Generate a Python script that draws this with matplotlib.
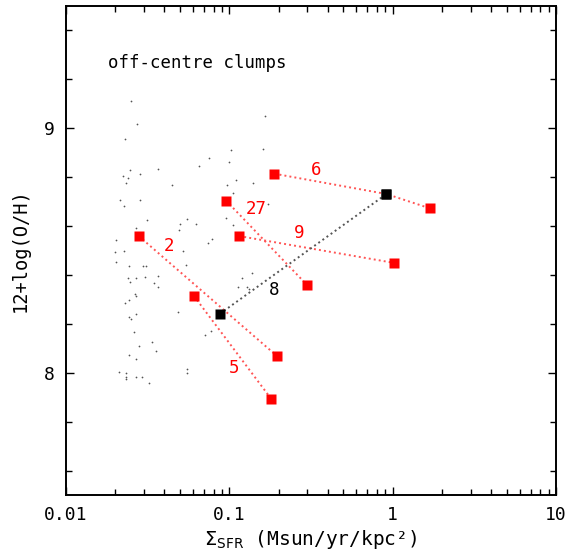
import matplotlib
matplotlib.use('Agg')
import matplotlib.pyplot as plt
from matplotlib.ticker import MultipleLocator, FixedLocator, NullFormatter

# background sample (small grey dots)
bg_sfr = [0.0251, 0.0272, 0.0229, 0.1648, 0.1614, 0.0755, 0.102, 0.1002, 0.0649, 0.0367,
          0.0247, 0.0223, 0.0239, 0.0285, 0.0234, 0.0447, 0.1387, 0.1106, 0.097, 0.105,
          0.0215, 0.0285, 0.0225, 0.1733, 0.0314, 0.095, 0.0499, 0.0551, 0.0622, 0.027,
          0.1057, 0.0494, 0.0203, 0.0279, 0.0736, 0.0783, 0.0518, 0.0199, 0.0225, 0.0203,
          0.0244, 0.0295, 0.0309, 0.0545, 0.0239, 0.027, 0.0306, 0.0366, 0.1372, 0.0347,
          0.0366, 0.0246, 0.1202, 0.1125, 0.1285, 0.1318, 0.0266, 0.0243, 0.0229, 0.0268,
          0.0484, 0.0268, 0.0243, 0.0249, 0.0262, 0.0767, 0.071, 0.0337, 0.0279, 0.0355,
          0.0243, 0.027, 0.0212, 0.0232, 0.0233, 0.0232, 0.0268, 0.029, 0.0321, 0.0553,
          0.0547]
bg_oh = [9.113, 9.019, 8.957, 9.051, 8.915, 8.879, 8.912, 8.861, 8.845, 8.834,
         8.831, 8.806, 8.798, 8.812, 8.777, 8.767, 8.775, 8.788, 8.766, 8.736,
         8.708, 8.705, 8.682, 8.689, 8.623, 8.633, 8.608, 8.627, 8.610, 8.592,
         8.603, 8.585, 8.543, 8.564, 8.532, 8.549, 8.499, 8.493, 8.496, 8.454,
         8.435, 8.438, 8.438, 8.439, 8.387, 8.389, 8.393, 8.397, 8.410, 8.366,
         8.351, 8.373, 8.386, 8.351, 8.351, 8.342, 8.321, 8.299, 8.286, 8.315,
         8.247, 8.241, 8.227, 8.220, 8.165, 8.171, 8.156, 8.127, 8.111, 8.090,
         8.072, 8.056, 8.004, 8.000, 7.981, 7.974, 7.983, 7.981, 7.960, 8.016,
         7.997]

# clumps: id, (sfr, oh) pairs along each track
clump_ids = ['6', '27', '9', '2', '5', '8']
clump_sfr = [[0.189, 0.916, 1.70],
             [0.0955, 0.298],
             [0.115, 1.026],
             [0.0279, 0.196],
             [0.0607, 0.181],
             [0.0875, 0.916]]
clump_oh = [[8.814, 8.731, 8.672],
            [8.704, 8.360],
            [8.559, 8.449],
            [8.559, 8.068],
            [8.314, 7.892],
            [8.241, 8.731]]
# which points of each track are red squares
clump_red = [[True, False, True],
             [True, True],
             [True, True],
             [True, True],
             [True, True],
             [False, False]]
label_sfr = [0.339, 0.146, 0.269, 0.0428, 0.1074, 0.1875]
label_oh = [8.828, 8.669, 8.571, 8.520, 8.019, 8.340]

plt.rcParams['font.family'] = ['DejaVu Sans Mono', 'DejaVu Sans']
fig = plt.figure(figsize=(5.67, 5.54), dpi=100)
ax = fig.add_axes([66 / 567, 59 / 554, 490 / 567, 489 / 554])

ax.scatter(bg_sfr, bg_oh, s=1.6, color='#555555', lw=0, zorder=1)

for cid, xs, ys, reds in zip(clump_ids, clump_sfr, clump_oh, clump_red):
    lcol = '#555555' if cid == '8' else '#ff5555'
    ax.plot(xs, ys, ls=(0, (1, 1.6)), color=lcol, lw=1.4, zorder=2)
    for x, y, r in zip(xs, ys, reds):
        ax.plot(x, y, 's', color='red' if r else 'black', ms=7.5, mec='none', zorder=4)

for cid, x, y in zip(clump_ids, label_sfr, label_oh):
    ax.text(x, y, cid, color='black' if cid == '8' else 'red', fontsize=12.5,
            ha='center', va='center', zorder=5)

ax.text(0.018, 9.267, 'off-centre clumps', fontsize=12.5, ha='left', va='center')

ax.set_xscale('log')
ax.set_xlim(0.01, 10)
ax.set_ylim(7.5, 9.5)
ax.set_xticks([0.01, 0.1, 1, 10])
ax.set_xticklabels(['0.01', '0.1', '1', '10'])
ax.xaxis.set_minor_formatter(NullFormatter())
ax.yaxis.set_major_locator(FixedLocator([8, 9]))
ax.set_yticklabels(['8', '9'])
ax.yaxis.set_minor_locator(MultipleLocator(0.2))

ax.tick_params(which='both', direction='in', top=True, right=True, width=1.0,
               labelsize=13, pad=8)
ax.tick_params(which='major', length=6)
ax.tick_params(which='minor', length=4)
for sp in ax.spines.values():
    sp.set_linewidth(1.4)

ax.set_xlabel(r'$\Sigma_{\rm SFR}$ (Msun/yr/kpc²)', fontsize=14, labelpad=3)
ax.set_ylabel('12+log(O/H)', fontsize=13.5, labelpad=10)

fig.savefig('out.png', dpi=100)
